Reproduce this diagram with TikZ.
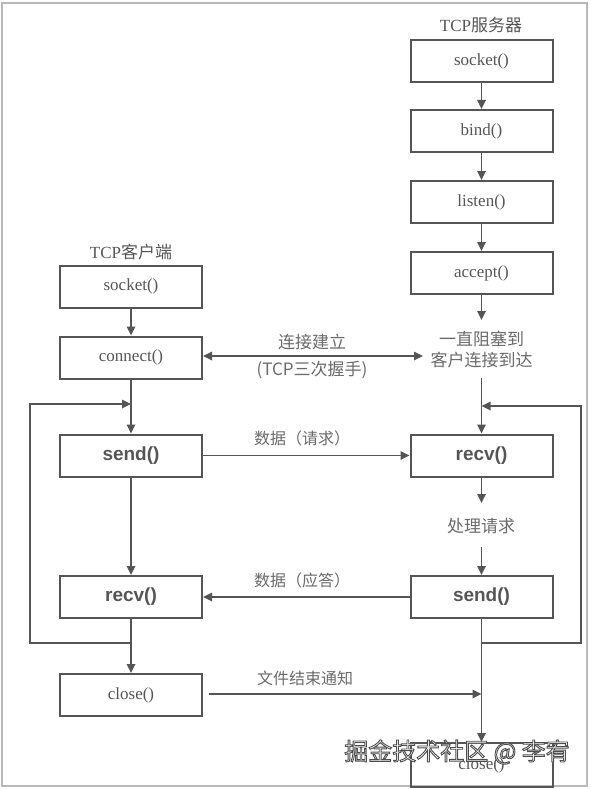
\documentclass[tikz,border=0pt]{standalone}
\usepackage{fontspec}
\setmainfont{Liberation Serif}
\newfontfamily\cjk{Noto Sans CJK SC}
\newfontfamily\lsans{Liberation Sans}
\usetikzlibrary{arrows.meta}
\definecolor{ln}{HTML}{555555}
\definecolor{tx}{HTML}{555555}
\definecolor{lt}{HTML}{6A6A6A}
\newcommand{\outlinedtext}[1]{\special{pdf:literal direct 0.3 G 2 Tr 0.9 w}#1\special{pdf:literal direct 0 Tr}}
\begin{document}
\begin{tikzpicture}[x=1pt,y=-1pt,
  box/.style={draw=ln,line width=2pt,minimum width=142pt,minimum height=42pt,inner sep=0pt,text=tx,font=\fontsize{17}{20}\selectfont},
  bbox/.style={box,font=\lsans\bfseries\fontsize{19}{22}\selectfont},
  lab/.style={text=lt,font=\cjk\fontsize{16}{20}\selectfont,inner sep=0pt},
  conn/.style={draw=ln,line width=1.7pt},
  arr/.style={conn,-{Triangle[length=9pt,width=8.5pt]}},
  darr/.style={conn,{Triangle[length=9pt,width=8.5pt]}-{Triangle[length=9pt,width=8.5pt]}},
  wmark/.style={font=\cjk\fontsize{24}{24}\selectfont,inner sep=0pt}]
\useasboundingbox (0,0) rectangle (590,789);
\draw[gray!55,line width=1.5pt] (2,3) rectangle (587,786);

% server column
\node[lab,text=tx,font=\fontsize{17}{20}\selectfont] (ts) at (481,25) {TCP{\cjk 服务器}};
\node[box] (ssock) at (481.5,61) {socket()};
\node[box] (sbind) at (481.5,131) {bind()};
\node[box] (slist) at (481.5,202) {listen()};
\node[box] (sacc) at (481.5,273) {accept()};
\node[lab,align=center,font=\cjk\fontsize{17}{21}\selectfont] (swait) at (481.5,350) {一直阻塞到\\客户连接到达};
\coordinate (w1) at (481.5,320);
\coordinate (w2) at (481.5,378);
\coordinate (w3) at (423,356);
\node[bbox] (srecv) at (481.5,455.5) {recv()};
\node[lab,font=\cjk\fontsize{17}{20}\selectfont] (sproc) at (481,526) {处理请求};
\coordinate (p1) at (481.5,503);
\coordinate (p2) at (481.5,547);
\node[bbox] (ssend) at (481.5,597) {send()};
\node[box,minimum height=44pt] (sclose) at (481.5,765) {close()};

% client column
\node[lab,text=tx,font=\fontsize{17}{20}\selectfont] (tc) at (131,252) {TCP{\cjk 客户端}};
\node[box] (csock) at (131,286.5) {socket()};
\node[box] (cconn) at (131,357.5) {connect()};
\node[bbox] (csend) at (131,455.5) {send()};
\node[bbox] (crecv) at (131,597) {recv()};
\node[box] (cclose) at (131,695) {close()};

% server arrows
\draw[arr] (ssock) -- (sbind);
\draw[arr] (sbind) -- (slist);
\draw[arr] (slist) -- (sacc);
\draw[arr] (sacc) -- (w1);
\draw[arr] (w2) -- (srecv);
\draw[arr] (srecv) -- (p1);
\draw[arr] (p2) -- (ssend);
\draw[arr] (ssend) -- (sclose);

% client arrows
\draw[arr] (csock) -- (cconn);
\draw[arr] (cconn) -- (csend);
\draw[arr] (csend) -- (crecv);
\draw[arr] (crecv) -- (cclose);

% loops
\coordinate (cl1) at (131,404);
\coordinate (cl2) at (131,643);
\coordinate (lc) at (30,404);
\draw[arr] (cl2) -| (lc) -- (cl1);
\coordinate (sl1) at (481.5,406);
\coordinate (sl2) at (481.5,643);
\coordinate (rc) at (581,406);
\draw[arr] (sl2) -| (rc) -- (sl1);

% cross arrows
\draw[darr] (cconn.east |- w3) -- (w3);
\node[lab,font=\cjk\fontsize{17}{20}\selectfont] (l1) at (312,342) {连接建立};
\node[lab,font=\cjk\fontsize{17}{20}\selectfont] (l2) at (312,370) {(TCP三次握手)};
\draw[arr] (csend) -- (srecv);
\node[lab] (l3) at (302,438) {数据（请求）};
\draw[arr] (ssend) -- (crecv);
\node[lab] (l4) at (302,580) {数据（应答）};
\coordinate (f1) at (209,694);
\coordinate (f2) at (481.5,694);
\draw[arr] (f1) -- (f2);
\node[lab] (l5) at (305,678) {文件结束通知};

% watermark
\node[wmark,text=white] (wm) at (457,752) {\outlinedtext{掘金技术社区 @ 李宥}};
\end{tikzpicture}
\end{document}
